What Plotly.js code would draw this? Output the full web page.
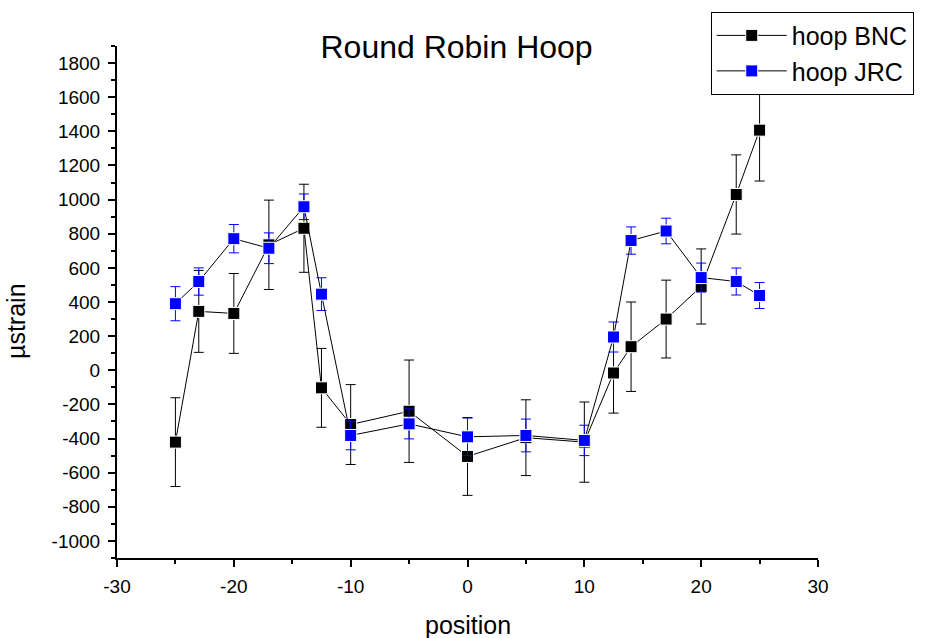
<!DOCTYPE html>
<html>
<head>
<meta charset="utf-8">
<script src="https://cdn.plot.ly/plotly-3.0.1.min.js"></script>
<style>html,body{margin:0;padding:0;background:#fff;}#chart{width:928px;height:638px;}</style>
</head>
<body>
<div id="chart"></div>
<script>
const positions = [-25, -23, -20, -17, -14, -12.5, -10, -5, 0, 5, 10, 12.5, 14, 17, 20, 23, 25];
const bncValues = [-421, 345, 333, 735, 832, -103, -318, -240, -505, -395, -421, -16, 138, 300, 491, 1030, 1407];
const bncErrors = [260, 240, 234, 262, 258, 231, 234, 300, 228, 222, 235, 235, 262, 228, 220, 232, 298];
const jrcValues = [390, 520, 771, 715, 958, 446, -382, -314, -390, -382, -411, 195, 760, 816, 543, 520, 438];
const jrcErrors = [100, 80, 83, 90, 75, 96, 84, 88, 110, 96, 89, 88, 80, 75, 85, 79, 76];

const xTickVals = [-30, -20, -10, 0, 10, 20, 30];
const xTickText = ['-30', '-20', '-10', '0', '10', '20', '30'];
const yTickVals = [-1000, -800, -600, -400, -200, 0, 200, 400, 600, 800, 1000, 1200, 1400, 1600, 1800];
const yTickText = ['-1000', '-800', '-600', '-400', '-200', '0', '200', '400', '600', '800', '1000', '1200', '1400', '1600', '1800'];

const font = 'Liberation Sans, Arial, sans-serif';

const traces = [
  {
    x: positions, y: bncValues, name: 'hoop BNC', type: 'scatter', mode: 'lines+markers',
    line: {color: '#000', width: 1},
    marker: {symbol: 'square', size: 12, color: '#000', line: {color: '#fff', width: 1}},
    error_y: {type: 'data', array: bncErrors, visible: true, color: '#000', thickness: 1, width: 5}
  },
  {
    x: positions, y: jrcValues, name: 'hoop JRC', type: 'scatter', mode: 'lines+markers',
    line: {color: '#000', width: 1},
    marker: {symbol: 'square', size: 12, color: '#0000ff', line: {color: '#fff', width: 1}},
    error_y: {type: 'data', array: jrcErrors, visible: true, color: '#0000ff', thickness: 1, width: 5}
  }
];

const layout = {
  width: 928, height: 638,
  margin: {l: 117, r: 110, t: 44, b: 80},
  paper_bgcolor: '#fff', plot_bgcolor: '#fff',
  font: {family: font, color: '#000'},
  title: {text: 'Round Robin Hoop', font: {size: 32, family: font}, x: 0.492, xanchor: 'center', y: 0.927, yanchor: 'middle'},
  xaxis: {
    range: [-30, 30], tickmode: 'array', tickvals: xTickVals, ticktext: xTickText,
    ticks: 'outside', ticklen: 7, tickwidth: 2, tickcolor: '#000',
    minor: {dtick: 5, tick0: -30, ticks: 'outside', ticklen: 4, tickwidth: 2, tickcolor: '#000'},
    showline: true, linecolor: '#000', linewidth: 2, showgrid: false, zeroline: false,
    tickfont: {size: 19, family: font}, ticklabelstandoff: 3
  },
  yaxis: {
    range: [-1100, 1900], tickmode: 'array', tickvals: yTickVals, ticktext: yTickText,
    ticks: 'outside', ticklen: 7, tickwidth: 2, tickcolor: '#000',
    minor: {dtick: 100, tick0: -1000, ticks: 'outside', ticklen: 4, tickwidth: 2, tickcolor: '#000'},
    showline: true, linecolor: '#000', linewidth: 2, showgrid: false, zeroline: false,
    tickfont: {size: 19, family: font}, ticklabelstandoff: 4
  },
  annotations: [
    {text: 'position', xref: 'paper', yref: 'paper', x: 0.5, y: -0.130, xanchor: 'center', yanchor: 'middle',
     showarrow: false, font: {size: 25, family: font}},
    {text: 'µstrain', xref: 'paper', yref: 'paper', x: -0.144, y: 0.463, xanchor: 'center', yanchor: 'middle',
     textangle: -90, showarrow: false, font: {size: 25, family: font}}
  ],
  legend: {
    x: 0.847, y: 0.905, xanchor: 'left', yanchor: 'bottom',
    bgcolor: '#fff', bordercolor: '#000', borderwidth: 1,
    font: {size: 25, family: font}, itemwidth: 70, tracegroupgap: 0
  },
  showlegend: true
};

Plotly.newPlot('chart', traces, layout, {displayModeBar: false, staticPlot: true});
</script>
</body>
</html>
